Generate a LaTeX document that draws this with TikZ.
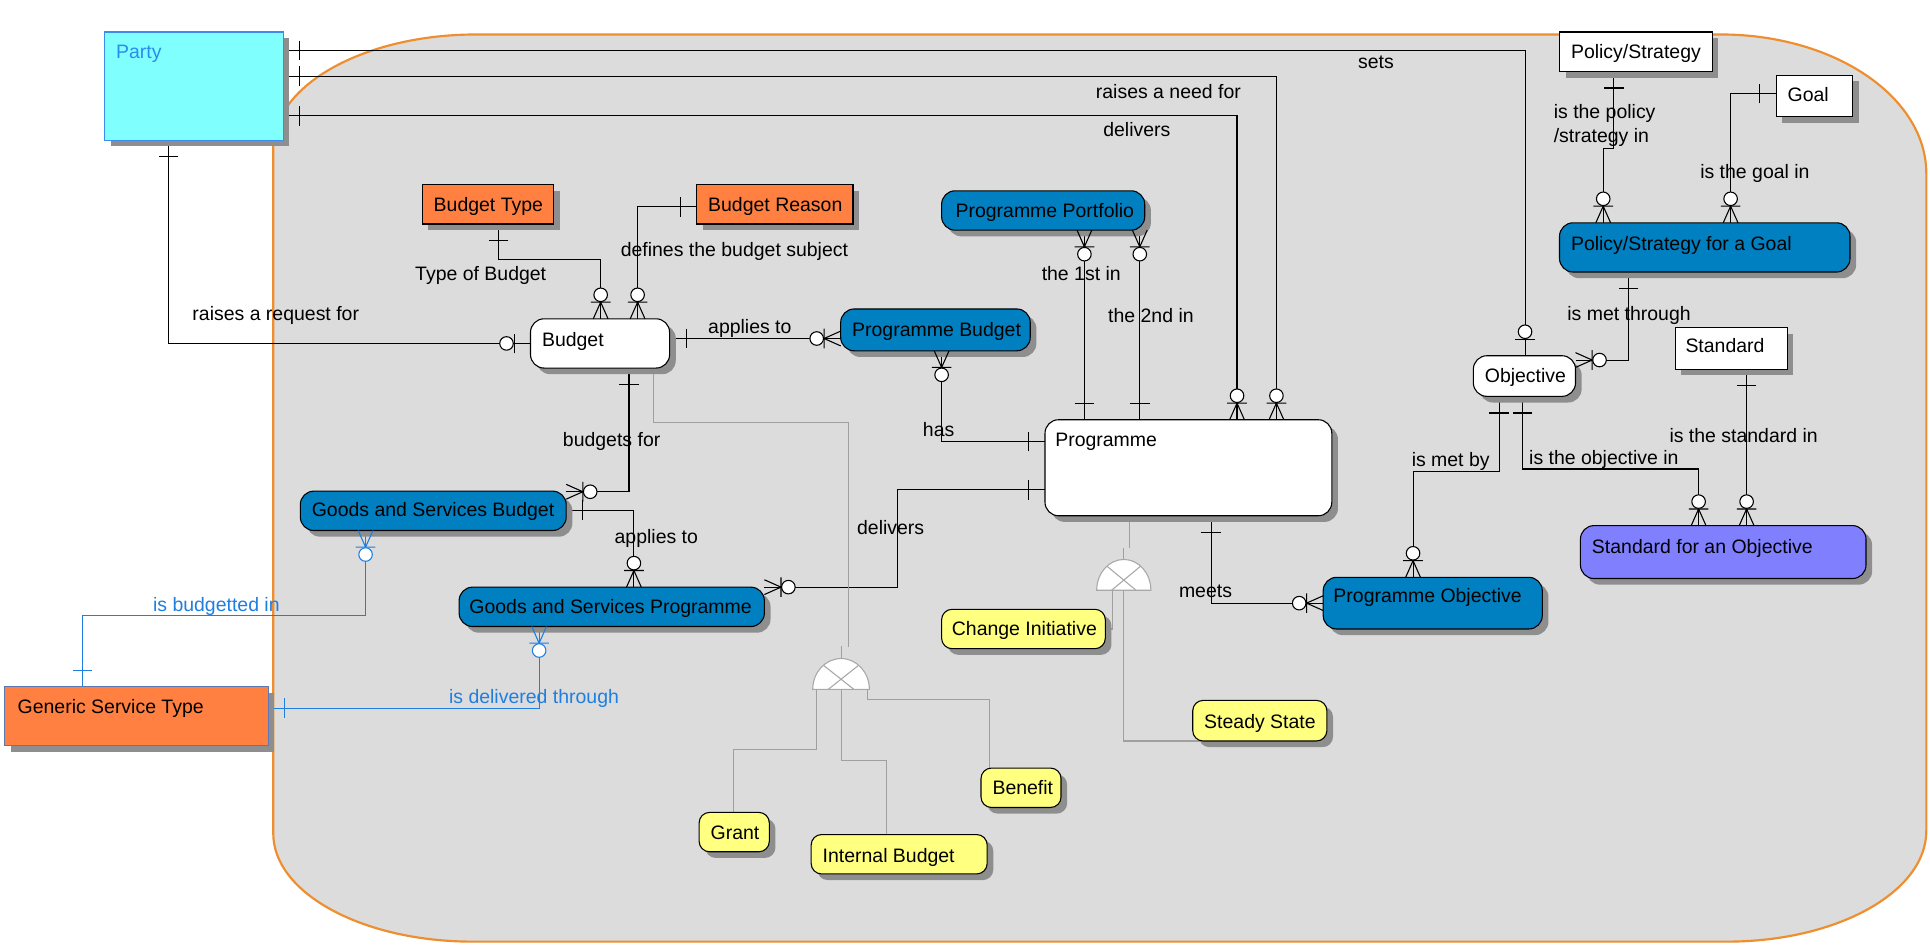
\documentclass[tikz,border=0pt]{standalone}
\usepackage{tikz}
\usepackage{fontspec}
\setmainfont{Liberation Sans}
\usetikzlibrary{shadows,calc}
\definecolor{contfill}{HTML}{DCDCDC}
\definecolor{contedge}{HTML}{EE8E2E}
\definecolor{cyanp}{HTML}{80FFFF}
\definecolor{partyedge}{HTML}{3C8CF0}
\definecolor{partytext}{HTML}{2B8CF0}
\definecolor{orent}{HTML}{FF8040}
\definecolor{blent}{HTML}{0080C0}
\definecolor{yel}{HTML}{FFFF80}
\definecolor{purp}{HTML}{8080FF}
\definecolor{gstedge}{HTML}{5A78B4}
\definecolor{bluerel}{HTML}{1E7FE0}
\definecolor{subgray}{HTML}{A0A0A0}
\definecolor{gatec}{HTML}{A8A8A8}
\definecolor{shadowc}{HTML}{8E8E8E}
\pgfdeclarelayer{bg}
\pgfdeclarelayer{lines}
\pgfsetlayers{bg,lines,main}
\begin{document}
\begin{tikzpicture}[x=0.02cm,y=-0.02cm,
  ent/.style={draw=black, line width=0.5pt, inner sep=0pt, outer sep=0pt, anchor=north west,
    drop shadow={shadow xshift=0.1cm, shadow yshift=-0.1cm, opacity=1, fill=shadowc}},
  rent/.style={ent, rounded corners=0.22cm},
  yent/.style={ent, rounded corners=0.17cm, fill=yel},
  sz/.style 2 args={minimum width=#1*0.02cm, minimum height=#2*0.02cm},
  txt/.style={font=\fontsize{9}{11}\selectfont, inner sep=0pt, text height=6.44pt, text depth=0pt, anchor=west},
  rel/.style={draw=black, line width=0.5pt},
  brel/.style={draw=bluerel, line width=0.5pt},
  sub/.style={draw=subgray, line width=0.5pt},
  gate/.style={draw=gatec, fill=white, line width=0.5pt},
  gatex/.style={draw=gatec, line width=0.5pt},
  pics/one/.style={code={\draw[line width=0.5pt] (13.5,-8)--(13.5,8);}},
  pics/zo/.style={code={\draw[line width=0.5pt] (13,-8)--(13,8); \draw[line width=0.5pt,fill=white] (19.5,0) circle[radius=5.5];}},
  pics/zm/.style={code={\draw[line width=0.5pt] (0,-6)--(13.5,0)--(0,6) (13.5,-8)--(13.5,8); \draw[line width=0.5pt,fill=white] (19.5,0) circle[radius=5.5];}},
]
\useasboundingbox (0,0) rectangle (1568,769);
\begin{pgfonlayer}{bg}
\fill[white] (0,0) rectangle (1568,769);
\draw[draw=contedge, line width=1pt, fill=contfill] (222,120) .. controls (222,69.2) and (295.9,28) .. (387,28) -- (1398,28) .. controls (1490.2,28) and (1565,78.6) .. (1565,141) -- (1565,675) .. controls (1565,724.7) and (1492.5,765) .. (1403,765) -- (384,765) .. controls (294.5,765) and (222,725.6) .. (222,677) -- cycle;
\end{pgfonlayer}

% entities
\node[ent, sz={145}{88}, fill=cyanp, draw=partyedge] (party) at (85,26) {};
\node[ent, sz={107}{32}, fill=orent] (btype) at (343,150) {};
\node[ent, sz={127}{32}, fill=orent] (breason) at (566,150) {};
\node[rent, sz={165}{32}, fill=blent] (ppf) at (765,155) {};
\node[rent, sz={113}{40}, fill=white] (budget) at (431,259) {};
\node[rent, sz={154}{34}, fill=blent] (pbud) at (683,251) {};
\node[rent, sz={233}{78}, fill=white] (prog) at (849,341) {};
\node[rent, sz={216}{32}, fill=blent] (gsb) at (244,399) {};
\node[rent, sz={248}{32}, fill=blent] (gsp) at (373,477) {};
\node[ent, sz={214}{48}, fill=orent, draw=gstedge] (gst) at (4,558) {};
\node[yent, sz={133}{32}] (ci) at (765,495) {};
\node[yent, sz={109}{33}] (ss) at (969,569) {};
\node[yent, sz={65}{32}] (benefit) at (797,624) {};
\node[yent, sz={57}{32}] (grant) at (568,660) {};
\node[yent, sz={143}{32}] (ib) at (659,678) {};
\node[rent, sz={178}{42}, fill=blent] (po) at (1075,469) {};
\node[rent, sz={83}{33}, fill=white] (obj) at (1197,289) {};
\node[ent, sz={91}{34}, fill=white] (std) at (1361,266) {};
\node[rent, sz={232}{43}, fill=purp] (sfo) at (1284,427) {};
\node[ent, sz={124}{32}, fill=white] (ps) at (1267,26) {};
\node[ent, sz={62}{34}, fill=white] (goal) at (1443,61) {};
\node[rent, sz={236}{40}, fill=blent] (psg) at (1267,181) {};

% entity texts
\node[txt, text=partytext] (party-t) at (94,42) {Party};
\node[txt] (btype-t) at (352,166) {Budget Type};
\node[txt] (breason-t) at (575,166) {Budget Reason};
\node[txt] (ppf-t) at (776,171) {Programme Portfolio};
\node[txt] (budget-t) at (440,276) {Budget};
\node[txt] (pbud-t) at (692,268) {Programme Budget};
\node[txt] (prog-t) at (857,357) {Programme};
\node[txt] (gsb-t) at (253,414) {Goods and Services Budget};
\node[txt] (gsp-t) at (381,493) {Goods and Services Programme};
\node[txt] (gst-t) at (14,574) {Generic Service Type};
\node[txt] (ci-t) at (773,511) {Change Initiative};
\node[txt] (ss-t) at (978,586) {Steady State};
\node[txt] (benefit-t) at (806,640) {Benefit};
\node[txt] (grant-t) at (577,676) {Grant};
\node[txt] (ib-t) at (668,695) {Internal Budget};
\node[txt] (po-t) at (1083,484) {Programme Objective};
\node[txt] (obj-t) at (1206,305) {Objective};
\node[txt] (std-t) at (1369,281) {Standard};
\node[txt] (sfo-t) at (1293,444) {Standard for an Objective};
\node[txt] (ps-t) at (1276,42) {Policy/Strategy};
\node[txt] (goal-t) at (1452,77) {Goal};
\node[txt] (psg-t) at (1276,198) {Policy/Strategy for a Goal};

% connector lines
\begin{pgfonlayer}{lines}
\draw[rel] (party.east |- 0,41) -| (1239,0 |- obj.north);
\draw[rel] (party.east |- 0,62) -| (1037,0 |- prog.north);
\draw[rel] (party.east |- 0,94) -| (1005,0 |- prog.north);
\draw[rel] (137,0 |- party.south) |- (budget.west |- 0,279);
\draw[rel] (405,0 |- btype.south) |- (488,211) -- (488,0 |- budget.north);
\draw[rel] (breason.west |- 0,168) -| (518,0 |- budget.north);
\draw[rel] (budget.east |- 0,275) -- (pbud.west |- 0,275);
\draw[rel] (765,0 |- pbud.south) |- (prog.west |- 0,358.6);
\draw[rel] (881,0 |- ppf.south) -- (881,0 |- prog.north);
\draw[rel] (926,0 |- ppf.south) -- (926,0 |- prog.north);
\draw[rel] (511,0 |- budget.south) |- (gsb.east |- 0,399.5);
\draw[rel] (gsb.east |- 0,414.4) -| (515,0 |- gsp.north);
\draw[rel] (prog.west |- 0,398) -| (729,477) -- (gsp.east |- 0,477);
\draw[brel] (297,0 |- gsb.south) |- (67,500) -- (67,0 |- gst.north);
\draw[brel] (438,0 |- gsp.south) |- (gst.east |- 0,575.4);
\draw[rel] (984,0 |- prog.south) |- (po.west |- 0,490);
\draw[rel] (1218,0 |- obj.south) |- (1148,383.4) -- (1148,0 |- po.north);
\draw[rel] (1237,0 |- obj.south) |- (1380,381) -- (1380,0 |- sfo.north);
\draw[rel] (1419,0 |- std.south) -- (1419,0 |- sfo.north);
\draw[rel] (1311,0 |- ps.south) -- (1311,120.5) -- (1302.5,120.5) -- (1302.5,0 |- psg.north);
\draw[rel] (goal.west |- 0,76) -| (1406,0 |- psg.north);
\draw[rel] (1323,0 |- psg.south) |- (obj.east |- 0,292.5);
% subtype lines
\draw[sub] (531,0 |- budget.south) |- (689,343) -- (689,526);
\draw[sub] (683.3,525) -- (683.3,535);
\draw[sub] (663.5,560) |- (595.6,608.6) -- (595.6,0 |- grant.north);
\draw[sub] (684,560) |- (720,618) -- (720,0 |- ib.north);
\draw[sub] (704.5,560) |- (803.6,568) -- (803.6,0 |- benefit.north);
\draw[sub] (918,0 |- prog.south) -- (918,445);
\draw[sub] (913,445) -- (913,454.5);
\draw[sub] (904,479.5) |- (ci.east);
\draw[sub] (913,479.5) |- (975,0 |- ss.south);
\end{pgfonlayer}

% gates
\coordinate (g1) at (683.3,560);
\coordinate (g2) at (913,479.5);
\foreach \g/\rx in {g1/23, g2/22}{
  \draw[gate] (\g) ++(-\rx,0) arc[start angle=180, end angle=360, x radius=\rx, y radius=25] -- cycle;
  \draw[gatex] ($(\g)+(-0.45*\rx,0)$) -- ($(\g)+(0.62*\rx,-19.5)$);
  \draw[gatex] ($(\g)+(0.45*\rx,0)$) -- ($(\g)+(-0.62*\rx,-19.5)$);
}

% end symbols
\pic at (party.east |- 0,41) {one};
\pic[rotate=90] at (1239,0 |- obj.north) {zo};
\pic at (party.east |- 0,62) {one};
\pic[rotate=90] at (1037,0 |- prog.north) {zm};
\pic at (party.east |- 0,94) {one};
\pic[rotate=90] at (1005,0 |- prog.north) {zm};
\pic[rotate=-90] at (137,0 |- party.south) {one};
\pic[rotate=180] at (budget.west |- 0,279) {zo};
\pic[rotate=-90] at (405,0 |- btype.south) {one};
\pic[rotate=90] at (488,0 |- budget.north) {zm};
\pic[rotate=180] at (breason.west |- 0,168) {one};
\pic[rotate=90] at (518,0 |- budget.north) {zm};
\pic at (budget.east |- 0,275) {one};
\pic[rotate=180] at (pbud.west |- 0,275) {zm};
\pic[rotate=-90] at (765,0 |- pbud.south) {zm};
\pic[rotate=180] at (prog.west |- 0,358.6) {one};
\pic[rotate=-90] at (881,0 |- ppf.south) {zm};
\pic[rotate=90] at (881,0 |- prog.north) {one};
\pic[rotate=-90] at (926,0 |- ppf.south) {zm};
\pic[rotate=90] at (926,0 |- prog.north) {one};
\pic[rotate=-90] at (511,0 |- budget.south) {one};
\pic at (gsb.east |- 0,399.5) {zm};
\pic at (gsb.east |- 0,414.4) {one};
\pic[rotate=90] at (515,0 |- gsp.north) {zm};
\pic[rotate=180] at (prog.west |- 0,398) {one};
\pic at (gsp.east |- 0,477) {zm};
\pic[rotate=-90, bluerel] at (297,0 |- gsb.south) {zm};
\pic[rotate=90, bluerel] at (67,0 |- gst.north) {one};
\pic[rotate=-90, bluerel] at (438,0 |- gsp.south) {zm};
\pic[bluerel] at (gst.east |- 0,575.4) {one};
\pic[rotate=-90] at (984,0 |- prog.south) {one};
\pic[rotate=180] at (po.west |- 0,490) {zm};
\pic[rotate=-90] at (1218,0 |- obj.south) {one};
\pic[rotate=90] at (1148,0 |- po.north) {zm};
\pic[rotate=-90] at (1237,0 |- obj.south) {one};
\pic[rotate=90] at (1380,0 |- sfo.north) {zm};
\pic[rotate=-90] at (1419,0 |- std.south) {one};
\pic[rotate=90] at (1419,0 |- sfo.north) {zm};
\pic[rotate=-90] at (1311,0 |- ps.south) {one};
\pic[rotate=90] at (1302.5,0 |- psg.north) {zm};
\pic[rotate=180] at (goal.west |- 0,76) {one};
\pic[rotate=90] at (1406,0 |- psg.north) {zm};
\pic[rotate=-90] at (1323,0 |- psg.south) {one};
\pic at (obj.east |- 0,292.5) {zm};

% connector labels
\node[txt] (l-sets) at (1103,50) {sets};
\node[txt] (l-need) at (890,74.5) {raises a need for};
\node[txt] (l-deliv1) at (896,105.6) {delivers};
\node[txt] (l-req) at (156,254.6) {raises a request for};
\node[txt] (l-type) at (337,222.6) {Type of Budget};
\node[txt] (l-def) at (504,202.5) {defines the budget subject};
\node[txt] (l-app1) at (575,265) {applies to};
\node[txt] (l-1st) at (846,222.6) {the 1st in};
\node[txt] (l-2nd) at (900,256) {the 2nd in};
\node[txt] (l-has) at (749.5,349) {has};
\node[txt] (l-bfor) at (457,356.7) {budgets for};
\node[txt] (l-app2) at (499,436) {applies to};
\node[txt] (l-deliv2) at (696,428.7) {delivers};
\node[txt, text=bluerel] (l-bin) at (124,491) {is budgetted in};
\node[txt, text=bluerel] (l-dthr) at (364.5,565.6) {is delivered through};
\node[txt] (l-meets) at (957.5,480) {meets};
\node[txt] (l-metby) at (1146.6,373) {is met by};
\node[txt] (l-objin) at (1242,372) {is the objective in};
\node[txt] (l-stdin) at (1356,354) {is the standard in};
\node[txt] (l-pol1) at (1262,90.7) {is the policy};
\node[txt] (l-pol2) at (1262,110.5) {/strategy in};
\node[txt] (l-goalin) at (1381,139.5) {is the goal in};
\node[txt] (l-metthr) at (1273,254.5) {is met through};
\end{tikzpicture}
\end{document}
